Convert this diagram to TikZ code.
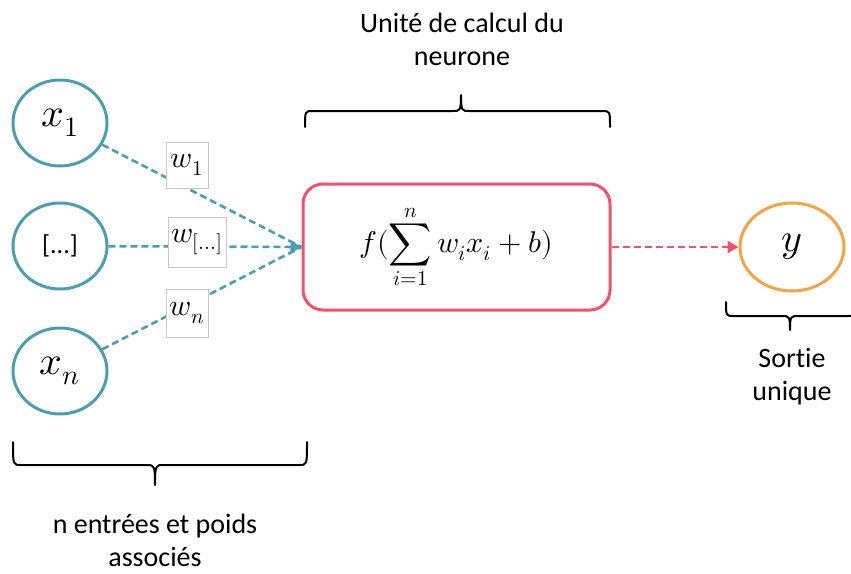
\documentclass[tikz,border=0pt]{standalone}
\usepackage{fontspec}
\usepackage{unicode-math}
\setmainfont[Ligatures=NoCommon]{Carlito}
\setmathfont{Latin Modern Math}
\usetikzlibrary{arrows.meta,shapes.geometric}
\definecolor{inteal}{RGB}{75,158,178}
\definecolor{nred}{RGB}{240,82,108}
\definecolor{yorange}{RGB}{240,165,65}
\definecolor{wgray}{RGB}{200,200,200}
\newcommand\mybrace[6]{%
  \draw[bracestyle] (#1,#4) .. controls (#1,#5) .. (#1+8,#5) -- (#3-8,#5)
    .. controls (#3-1,#5) and (#3,#5) .. (#3,#6)
    .. controls (#3,#5) and (#3+1,#5) .. (#3+8,#5) -- (#2-8,#5)
    .. controls (#2,#5) .. (#2,#4);}
\begin{document}
\begin{tikzpicture}[x=1pt,y=-1pt,
  inp/.style={ellipse,draw=inteal,line width=3pt,minimum width=94pt,minimum height=86pt,inner sep=0pt,font=\fontsize{40}{46}\selectfont},
  outp/.style={ellipse,draw=yorange,line width=3pt,minimum width=104pt,minimum height=88pt,inner sep=0pt,font=\fontsize{40}{46}\selectfont},
  wbox/.style={draw=wgray,fill=white,line width=0.8pt,inner sep=0pt,font=\fontsize{30}{34}\selectfont},
  tline/.style={inteal,line width=2.6pt,dash pattern=on 7pt off 4pt},
  rline/.style={nred,line width=2.6pt,dash pattern=on 7pt off 4pt,-{Triangle[length=11pt,width=12pt]}},
  neur/.style={draw=nred,line width=3pt,rounded corners=20pt,minimum width=307pt,minimum height=126pt,inner sep=0pt,font=\fontsize{30}{36}\selectfont},
  lbl/.style={align=center,font=\fontsize{28}{33}\selectfont},
  bracestyle/.style={black,line width=2pt,line cap=round,line join=round}]
\useasboundingbox (0,0) rectangle (851,573);
\node[neur] (neuron) at (456.5,247) {$\displaystyle f(\sum_{i=1}^{n} w_i x_i + b)$};
\node[inp] (x1) at (60,123) {$x_1$};
\node[inp] (xd) at (60,246) {\fontsize{26}{33}\selectfont[...]};
\node[inp] (xn) at (60,371) {$x_n$};
\node[outp] (y) at (792,247) {$y$};
\draw[tline] (x1) -- (neuron.west);
\draw[tline,-{Triangle[length=11pt,width=12pt]}] (xd) -- (neuron.west);
\draw[tline] (xn) -- (neuron.west);
\node[wbox,minimum width=42pt,minimum height=46pt] (w1) at (187,165) {$w_1$};
\node[wbox,minimum width=58pt,minimum height=50pt] (wd) at (197,242) {$w_{[...]}$};
\node[wbox,minimum width=42pt,minimum height=48pt] (wn) at (187,313) {$w_n$};
\draw[rline] (neuron.east) -- (y.west);
\mybrace{305}{610}{461}{127}{111}{95}
\mybrace{13}{307}{155}{442}{465}{485}
\mybrace{726}{856}{790}{302}{316}{330}
\node[lbl] (tneur) at (462,39) {Unité de calcul du\\neurone};
\node[lbl] (tout) at (792,377) {Sortie\\unique};
\node[lbl] (tin) at (155,540) {n entrées et poids\\associés};
\end{tikzpicture}
\end{document}
